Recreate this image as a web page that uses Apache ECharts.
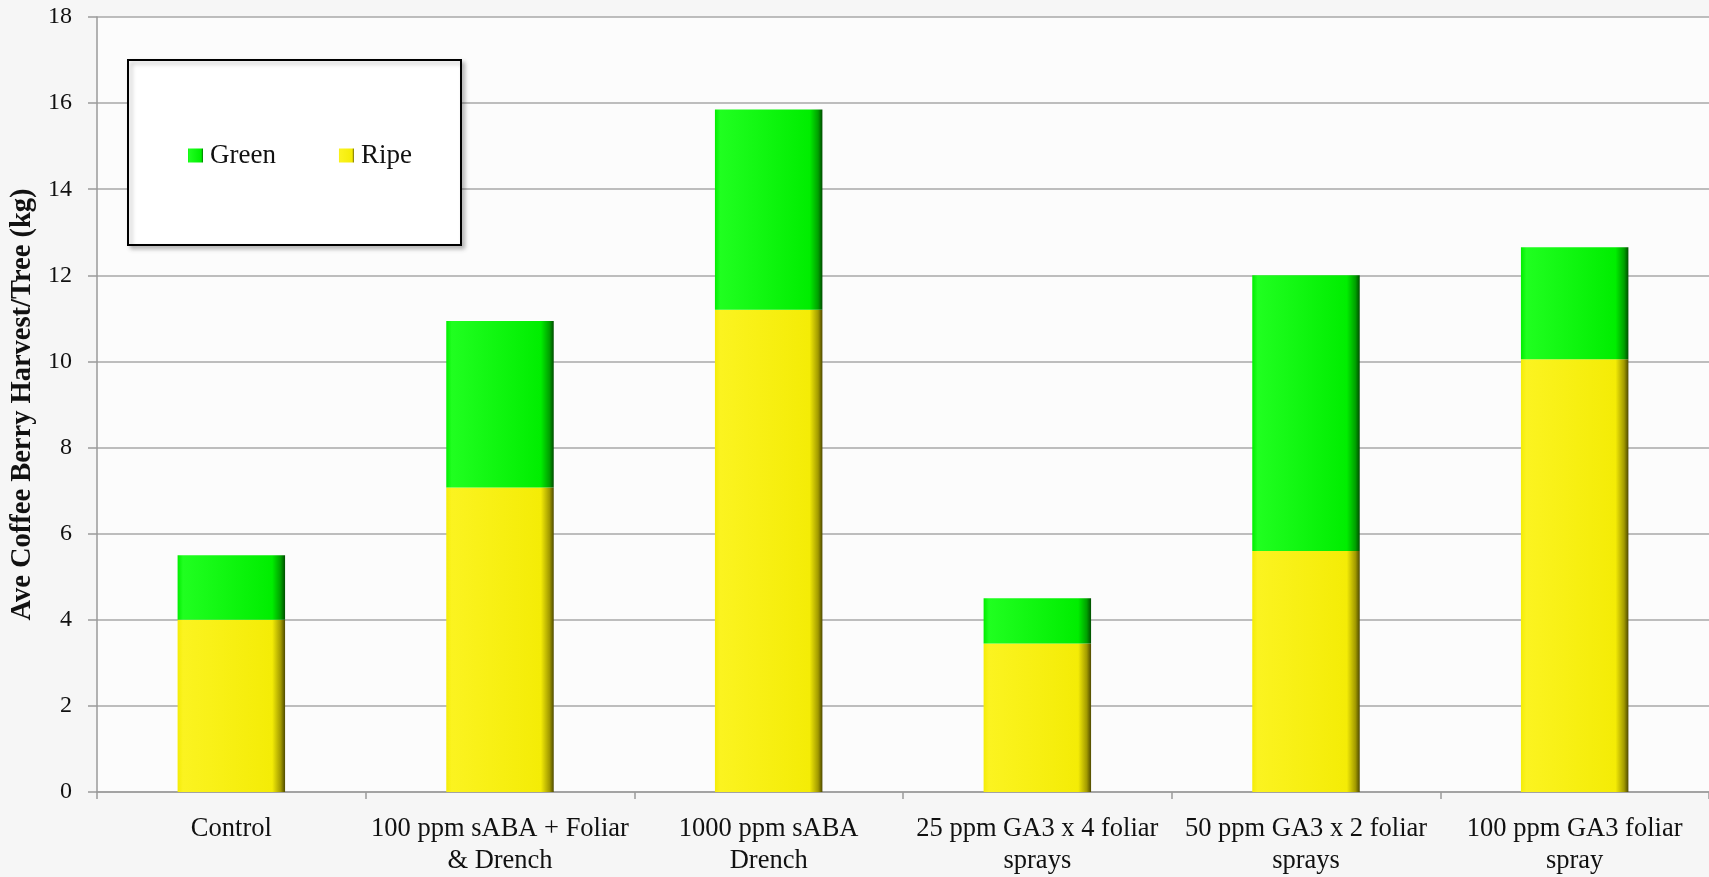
<!DOCTYPE html>
<html>
<head>
<meta charset="utf-8">
<script src="https://cdn.jsdelivr.net/npm/echarts@6/dist/echarts.min.js"></script>
<style>
  html, body { margin: 0; padding: 0; background: #f6f6f6; }
  #chart { width: 1709px; height: 877px; }
</style>
</head>
<body>
<div id="chart"></div>
<script>
// Treatments along the x-axis
const categories = [
  'Control',
  '100 ppm sABA + Foliar\n& Drench',
  '1000 ppm sABA\nDrench',
  '25 ppm GA3 x 4 foliar\nsprays',
  '50 ppm GA3 x 2 foliar\nsprays',
  '100 ppm GA3 foliar\nspray'
];

// Average harvest per tree (kg), stacked: ripe at the bottom, green on top
const ripe  = [4.0, 7.07, 11.2, 3.45, 5.6, 10.05];
const green = [1.5, 3.87, 4.65, 1.05, 6.4, 2.6];

const yTicks = { min: 0, max: 18, interval: 2 };

const FONT = 'Liberation Serif';

// Bevelled bar fills: light left edge, dark shaded right edge
function bevel(light, mid, dark, edge) {
  return new echarts.graphic.LinearGradient(0, 0, 1, 0, [
    { offset: 0, color: mid },
    { offset: 0.05, color: light },
    { offset: 0.88, color: mid },
    { offset: 0.96, color: dark },
    { offset: 1, color: edge }
  ]);
}
const yellowFill = bevel('#fbf320', '#f4ec06', '#a29a00', '#4f4a00');
const greenFill  = bevel('#20ff20', '#00ee00', '#00a000', '#004e00');

const chart = echarts.init(document.getElementById('chart'), null, { renderer: 'canvas' });

chart.setOption({
  backgroundColor: '#f6f6f6',
  animation: false,
  textStyle: { fontFamily: FONT },
  grid: {
    left: 97, right: 0, top: 17, bottom: 85,
    show: true, backgroundColor: '#fcfcfc', borderWidth: 0
  },
  graphic: [{
    type: 'rect',
    z: 3,
    shape: { x: 128, y: 60, width: 333, height: 185 },
    style: {
      fill: '#ffffff', stroke: '#000000', lineWidth: 2,
      shadowColor: 'rgba(0,0,0,0.25)', shadowBlur: 4, shadowOffsetX: 3, shadowOffsetY: 3
    }
  }],
  legend: {
    data: ['Green', 'Ripe'],
    left: 188, top: 142,
    padding: 0,
    z: 5,
    itemWidth: 15, itemHeight: 14, itemGap: 63,
    icon: 'rect',
    textStyle: { fontFamily: FONT, fontSize: 27, color: '#111', padding: [0, 0, 0, 2] }
  },
  xAxis: {
    type: 'category',
    data: categories,
    axisLine: { show: true, lineStyle: { color: '#9a9a9a', width: 1.5 } },
    axisTick: { show: true, inside: false, length: 7, lineStyle: { color: '#9a9a9a', width: 1.5 } },
    axisLabel: {
      interval: 0, margin: 21,
      fontFamily: FONT, fontSize: 26.5, color: '#111', lineHeight: 32, align: 'center'
    }
  },
  yAxis: {
    type: 'value',
    min: yTicks.min, max: yTicks.max, interval: yTicks.interval,
    name: 'Ave Coffee Berry Harvest/Tree (kg)',
    nameLocation: 'middle',
    nameGap: 53,
    nameTextStyle: { fontFamily: FONT, fontSize: 28.5, fontWeight: 'bold', color: '#111' },
    axisLine: { show: true, lineStyle: { color: '#9a9a9a', width: 1.5 } },
    axisTick: { show: true, inside: false, length: 9, lineStyle: { color: '#9a9a9a', width: 1.5 } },
    axisLabel: { margin: 25, fontFamily: FONT, fontSize: 24, color: '#111' },
    splitLine: { show: true, lineStyle: { color: '#a8a8a8', width: 1.5 } }
  },
  series: [
    {
      name: 'Ripe', type: 'bar', stack: 'harvest',
      barWidth: '40%',
      data: ripe,
      itemStyle: { color: yellowFill }
    },
    {
      name: 'Green', type: 'bar', stack: 'harvest',
      barWidth: '40%',
      data: green,
      itemStyle: { color: greenFill }
    }
  ]
});
</script>
</body>
</html>
